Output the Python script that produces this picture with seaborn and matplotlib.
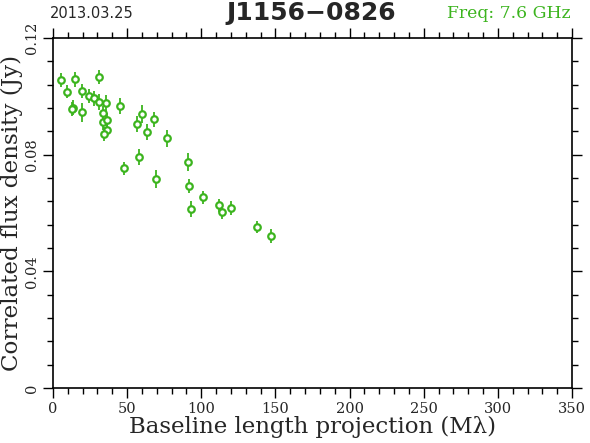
import matplotlib
matplotlib.use("Agg")
import matplotlib.pyplot as plt
import seaborn as sns
import pandas as pd
from matplotlib.ticker import MultipleLocator

baseline = [5.2, 14.6, 9.6, 19.4, 13.3, 12.8, 19.4, 24.3, 27.6, 31.0, 31.0, 35.7,
            33.9, 33.9, 36.6, 36.2, 34.6, 45.2, 60.0, 56.8, 68.3, 63.6, 77.1, 58.2,
            47.9, 69.5, 90.8, 91.9, 101.3, 92.9, 111.7, 114.2, 119.8, 137.8, 146.8]
flux = [0.1056, 0.1058, 0.1016, 0.1018, 0.0961, 0.0956, 0.0945, 0.1001, 0.0993,
        0.1066, 0.0981, 0.0976, 0.0942, 0.0913, 0.0919, 0.0884, 0.0871, 0.0967,
        0.0940, 0.0905, 0.0921, 0.0877, 0.0856, 0.0791, 0.0753, 0.0716, 0.0775,
        0.0692, 0.0654, 0.0613, 0.0626, 0.0603, 0.0617, 0.0551, 0.0521]
flux_err = [0.0025, 0.0027, 0.0023, 0.0025, 0.0025, 0.0025, 0.0033, 0.0025, 0.0025,
            0.0023, 0.0028, 0.0030, 0.0025, 0.0028, 0.0025, 0.0025, 0.0025, 0.0028,
            0.0030, 0.0028, 0.0025, 0.0028, 0.0030, 0.0028, 0.0022, 0.0032, 0.0030,
            0.0025, 0.0022, 0.0027, 0.0022, 0.0022, 0.0025, 0.0020, 0.0025]

df = pd.DataFrame({"baseline": baseline, "flux": flux, "err": flux_err})
green = "#3cb41e"

sns.set_style("ticks")
plt.rcParams["font.family"] = ["DejaVu Serif"]

fig = plt.figure(figsize=(5.9, 4.43), dpi=100)
ax = fig.add_axes([53/590, 55/443, 519/590, 350/443])

ax.errorbar(df["baseline"], df["flux"], yerr=df["err"], fmt="none",
            ecolor=green, elinewidth=1.3, capsize=0, zorder=2)
sns.scatterplot(data=df, x="baseline", y="flux", ax=ax, marker="o",
                s=22, facecolor="white", edgecolor=green, linewidth=1.6,
                zorder=3, legend=False)

ax.set_xlim(0, 350)
ax.set_ylim(0, 0.12)
ax.xaxis.set_major_locator(MultipleLocator(50))
ax.xaxis.set_minor_locator(MultipleLocator(10))
ax.yaxis.set_major_locator(MultipleLocator(0.04))
ax.yaxis.set_minor_locator(MultipleLocator(0.008))
ax.set_yticks([0, 0.04, 0.08, 0.12])
ax.set_yticklabels(["0", "0.04", "0.08", "0.12"], rotation=90, va="center")
ax.tick_params(which="both", direction="out", top=True, right=True,
               color="black", width=1, labelsize=10.5, pad=3)
ax.tick_params(which="major", length=7)
ax.tick_params(which="minor", length=4)
for s in ax.spines.values():
    s.set_color("black")
    s.set_linewidth(1.2)

ax.set_xlabel("Baseline length projection (M\u03bb)", fontsize=16.5, labelpad=0)
ax.set_ylabel("Correlated flux density (Jy)", fontsize=16.6)
ax.yaxis.set_label_coords(-0.058, 0.5)

fig.text(50/590, 1 - 13/443, "2013.03.25", fontsize=10.5, va="center", ha="left",
         family=["DejaVu Sans"])
fig.text(311/590, 1 - 13/443, "J1156\u22120826", fontsize=18, fontweight="bold",
         va="center", ha="center", family=["DejaVu Sans"])
fig.text(571/590, 1 - 13/443, "Freq: 7.6 GHz", fontsize=12.4, va="center", ha="right",
         color=green)

fig.savefig("out.png", dpi=100)
